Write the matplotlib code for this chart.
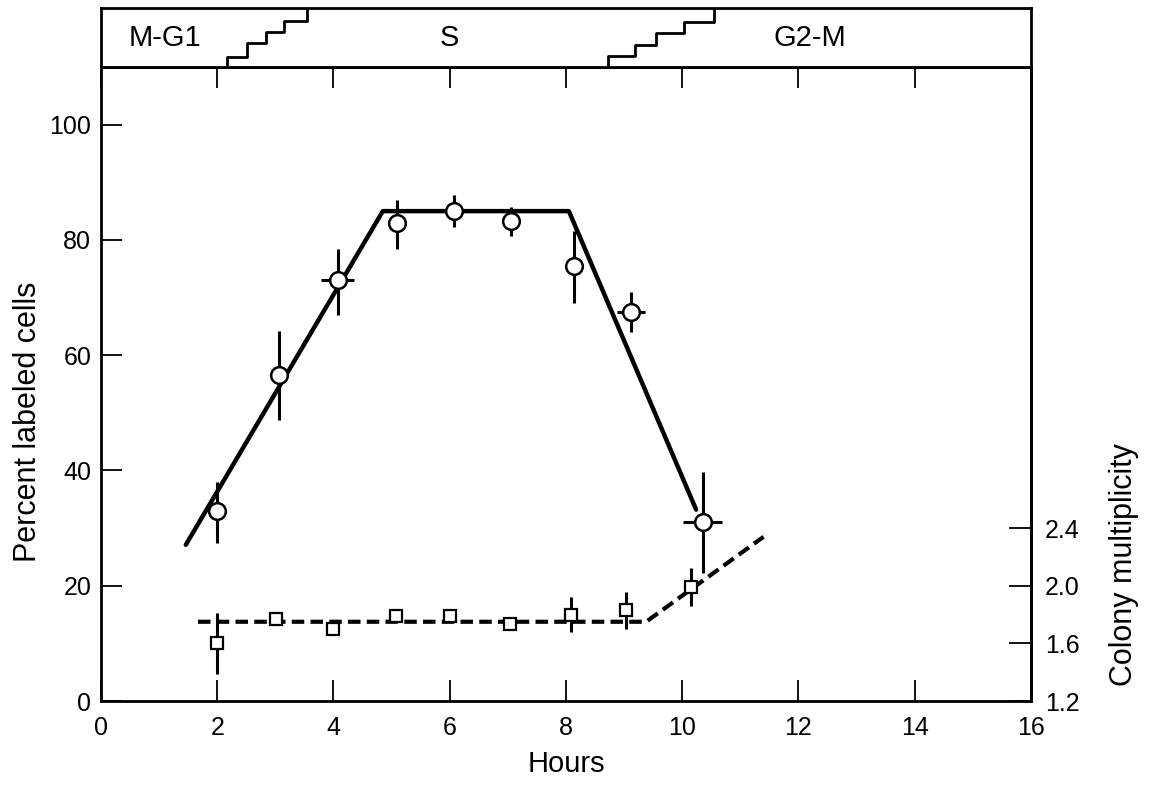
import matplotlib.pyplot as plt

plt.rcParams['font.family'] = ['Liberation Sans', 'DejaVu Sans']

# percent labeled cells (open circles)
hours_pl = [2.0, 3.07, 4.07, 5.1, 6.08, 7.05, 8.13, 9.12, 10.35]
pct_labeled = [33.0, 56.5, 73.0, 83.0, 85.0, 83.2, 75.5, 67.5, 31.0]
pct_err_lo = [5.5, 7.8, 6.0, 4.5, 2.8, 2.5, 6.5, 3.5, 8.8]
pct_err_hi = [5.0, 7.7, 5.5, 4.0, 2.8, 2.5, 6.0, 3.5, 8.7]
hour_err = [0, 0, 0.28, 0, 0, 0, 0, 0.24, 0.33]

# fitted curve for labeled cells
fit_h = [1.46, 4.85, 8.05, 10.24]
fit_pct = [27.1, 85.0, 85.0, 33.2]

# colony multiplicity (open squares)
hours_cm = [2.0, 3.02, 4.0, 5.07, 6.0, 7.03, 8.09, 9.03, 10.16]
colony = [1.60, 1.77, 1.70, 1.79, 1.79, 1.735, 1.80, 1.83, 1.99]
colony_err = [0.21, 0, 0, 0, 0, 0, 0.12, 0.13, 0.13]

fit_cm_h = [1.67, 9.38, 11.4]
fit_cm = [1.75, 1.75, 2.34]

# phase band
phases = ['M-G1', 'S', 'G2-M']
phase_x = [1.1, 6.0, 12.2]
stair1_x = [2.17, 2.17, 2.52, 2.52, 2.84, 2.84, 3.15, 3.15, 3.55, 3.55]
stair1_y = [0, 0.17, 0.17, 0.41, 0.41, 0.59, 0.59, 0.78, 0.78, 1.0]
stair2_x = [8.73, 8.73, 9.19, 9.19, 9.55, 9.55, 10.03, 10.03, 10.55, 10.55]
stair2_y = [0, 0.18, 0.18, 0.37, 0.37, 0.57, 0.57, 0.77, 0.77, 1.0]

fig = plt.figure(figsize=(11.51, 7.85), dpi=100)
ax = fig.add_axes([0.0877, 0.107, 0.808, 0.8076])
band = fig.add_axes([0.0877, 0.9146, 0.808, 0.0752], sharex=ax)

# main curve
ax.plot(fit_h, fit_pct, color='black', lw=3.2, zorder=2, solid_capstyle='round')
ax.errorbar(hours_pl, pct_labeled, yerr=[pct_err_lo, pct_err_hi], xerr=hour_err,
            fmt='o', ms=12, mfc='white', mec='black', mew=1.8,
            ecolor='black', elinewidth=2.2, capsize=0, zorder=3)

ax.set_xlim(0, 16)
ax.set_ylim(0, 110)
ax.set_xticks(range(0, 17, 2))
ax.set_yticks(range(0, 101, 20))
ax.tick_params(axis='both', direction='in', length=15, width=1.3, labelsize=18)
ax.tick_params(axis='x', pad=11, top=True)
ax.tick_params(axis='y', pad=7)
for s in ax.spines.values():
    s.set_linewidth(2)
ax.set_xlabel('Hours', fontsize=21, labelpad=7)
ax.set_ylabel('Percent labeled cells', fontsize=22)
ax.yaxis.set_label_coords(-0.062, 0.44)

# right axis
ax2 = ax.twinx()
ax2.set_ylim(1.2, 1.2 + 0.04 * 110)
ax2.set_yticks([1.2, 1.6, 2.0, 2.4])
ax2.set_yticklabels(['1.2', '1.6', '2.0', '2.4'])
ax2.tick_params(axis='y', direction='in', length=16, width=1.3, labelsize=18, pad=10)
ax2.spines['right'].set_linewidth(2)
ax2.plot(fit_cm_h, fit_cm, color='black', lw=3, ls=(0, (3, 1.5)), zorder=2)
ax2.errorbar(hours_cm, colony, yerr=colony_err, fmt='s', ms=9, mfc='white',
             mec='black', mew=1.6, ecolor='black', elinewidth=2.2, capsize=0, zorder=3)
ax2.set_ylabel('Colony multiplicity', fontsize=22, rotation=90)
ax2.yaxis.set_label_coords(1.084, 0.215)

# phase band on top
band.set_ylim(0, 1)
band.plot(stair1_x, stair1_y, color='black', lw=2)
band.plot(stair2_x, stair2_y, color='black', lw=2)
for name, px in zip(phases, phase_x):
    band.text(px, 0.5, name, ha='center', va='center', fontsize=21)
band.set_yticks([])
band.tick_params(axis='x', bottom=False, labelbottom=False)
for s in band.spines.values():
    s.set_linewidth(2)

fig.savefig('out.png', dpi=100)
